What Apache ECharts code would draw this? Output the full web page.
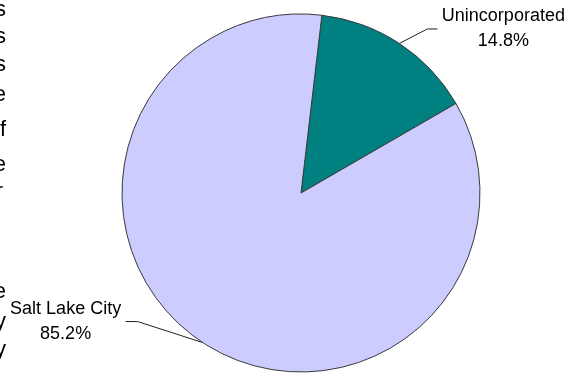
<!DOCTYPE html>
<html>
<head>
<meta charset="utf-8">
<script src="https://cdn.jsdelivr.net/npm/echarts@6/dist/echarts.min.js"></script>
<style>
  html, body { margin: 0; padding: 0; background: #fff; }
  #chart { width: 576px; height: 375px; }
</style>
</head>
<body>
<div id="chart"></div>
<script>
// Share of population by area
const categories = ['Unincorporated', 'Salt Lake City'];
const shares = [14.8, 85.2];
const sliceColors = ['#008080', '#CCCCFF'];

// Line ends of the surrounding page text, clipped at the left edge
const marginLetters = ['s', 's', 's', 'e', 'f', 'e', 'r', 'e', 'y', 'y'];
const marginRows = [10, 37, 65, 95, 130, 165, 192, 292, 322, 350];

const FONT = '"Liberation Sans", Arial, Helvetica, sans-serif';
const CENTER = [301, 193];
const RADIUS = 179;

const chart = echarts.init(document.getElementById('chart'), null, { renderer: 'canvas' });

const marginText = marginLetters.map(function (ch, i) {
  return {
    type: 'text',
    style: {
      text: ch,
      x: ch === 'r' ? 3 : 6,
      y: marginRows[i],
      fill: '#000',
      font: '22px ' + FONT,
      textAlign: 'right',
      textVerticalAlign: 'middle'
    }
  };
});

chart.setOption({
  animation: false,
  backgroundColor: '#ffffff',
  graphic: marginText,
  series: [{
    type: 'pie',
    center: CENTER,
    radius: RADIUS,
    startAngle: 83.3,
    clockwise: true,
    silent: true,
    data: categories.map(function (name, i) {
      return { name: name, value: shares[i], itemStyle: { color: sliceColors[i] } };
    }),
    itemStyle: { borderColor: '#3a3a3a', borderWidth: 1 },
    label: {
      show: true,
      position: 'outside',
      formatter: '{b}\n{c}%',
      color: '#000',
      fontFamily: FONT,
      fontSize: 18,
      lineHeight: 25,
      align: 'center'
    },
    labelLine: {
      show: true,
      length: 20,
      length2: 10,
      lineStyle: { color: '#222', width: 1 }
    },
    labelLayout: function (params) {
      const pts = params.labelLinePoints;
      if (!pts) return {};
      const e = pts[0];
      if (e[0] > CENTER[0]) {
        const y = e[1] - 14.5;
        return {
          x: e[0] + 104, y: y, align: 'center', verticalAlign: 'middle',
          labelLinePoints: [e, [e[0] + 28, y], [e[0] + 38, y]]
        };
      }
      const y = e[1] - 21;
      return {
        x: e[0] - 137, y: y, align: 'center', verticalAlign: 'middle',
        labelLinePoints: [e, [e[0] - 65, y], [e[0] - 77, y]]
      };
    }
  }]
});
</script>
</body>
</html>
